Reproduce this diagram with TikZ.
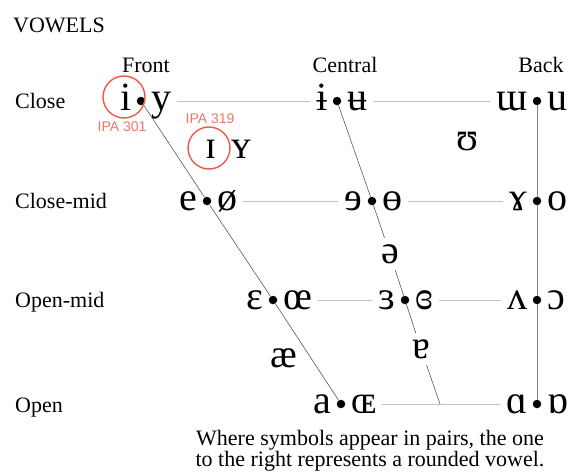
\documentclass[tikz,border=0pt]{standalone}
\usepackage{fontspec}
\setmainfont{Liberation Serif}
\newfontfamily\ipasans{Liberation Sans}
\usetikzlibrary{positioning}
\definecolor{ipared}{RGB}{238,88,72}
\definecolor{ipapink}{RGB}{240,118,104}
\tikzset{lbl/.style={font=\fontsize{22}{24}\selectfont, inner sep=0}}
\tikzset{vow/.style={font=\fontsize{40}{42}\selectfont, inner sep=0, text height=25pt, text depth=7pt}}
\tikzset{vdot/.style={circle, fill=black, inner sep=0, minimum size=8.5pt}}
\tikzset{ring/.style={circle, draw=ipared, line width=1.4pt, minimum size=42pt, inner sep=0}}
\tikzset{ipanum/.style={font=\ipasans\fontsize{14}{16}\selectfont, text=ipapink, inner sep=0}}
\tikzset{hline/.style={draw=black!24, line width=0.8pt, shorten <=5pt, shorten >=6pt}}
\tikzset{sline/.style={draw=black!65, line width=0.6pt}}
\tikzset{bline/.style={draw=black!50, line width=0.9pt}}

\begin{document}
\begin{tikzpicture}[x=1pt, y=-1pt]
	\useasboundingbox (0,0) rectangle (572,471);
	\node[lbl, anchor=base west] (title) at (13,32) {VOWELS};
	%
	\node[lbl, anchor=base] (front) at (146,72) {Front};
	\node[lbl, anchor=base] (central) at (345,72) {Central};
	\node[lbl, anchor=base] (back) at (541,72) {Back};
	%
	\node[lbl, anchor=base west] (close) at (15,108) {Close};
	\node[lbl, anchor=base west] (closemid) at (15,208) {Close-mid};
	\node[lbl, anchor=base west] (openmid) at (15,307) {Open-mid};
	\node[lbl, anchor=base west] (open) at (15,412) {Open};
	%
	\node[vdot] (d11) at (141,101) {};
	\node[vdot] (d12) at (337,101) {};
	\node[vdot] (d13) at (537,101) {};
	\node[vdot] (d21) at (207,201) {};
	\node[vdot] (d22) at (372,201) {};
	\node[vdot] (d23) at (537,201) {};
	\node[vdot] (d31) at (273,300) {};
	\node[vdot] (d32) at (405,300) {};
	\node[vdot] (d33) at (537,300) {};
	\node[vdot] (d41) at (341,404) {};
	\node[vdot] (d43) at (537,404) {};
	%
	\node[vow, left=5pt of d11] (i) {i};
	\node[vow, right=6pt of d11] (y) {y};
	\node[vow, left=5pt of d12] (ibar) {ɨ};
	\node[vow, right=6pt of d12] (ubar) {ʉ};
	\node[vow, left=5pt of d13] (mturn) {ɯ};
	\node[vow, right=6pt of d13] (u) {u};
	\node[vow, left=5pt of d21] (e) {e};
	\node[vow, right=6pt of d21] (oslash) {ø};
	\node[vow, left=5pt of d22] (erev) {ɘ};
	\node[vow, right=6pt of d22] (obar) {ɵ};
	\node[vow, left=5pt of d23] (ramshorn) {ɤ};
	\node[vow, right=6pt of d23] (o) {o};
	\node[vow, left=5pt of d31] (eps) {ɛ};
	\node[vow, right=6pt of d31] (oe) {œ};
	\node[vow, left=5pt of d32] (epsrev) {ɜ};
	\node[vow, right=6pt of d32] (epsclosed) {ɞ};
	\node[vow, left=5pt of d33] (vturn) {ʌ};
	\node[vow, right=6pt of d33] (oopen) {ɔ};
	\node[vow, left=5pt of d41] (a) {a};
	\node[vow, right=6pt of d41] (OE) {ɶ};
	\node[vow, left=5pt of d43] (alpha) {ɑ};
	\node[vow, right=6pt of d43] (alphaturn) {ɒ};
	%
	\node[vow] (smi) at (211,149) {ɪ};
	\node[vow] (smy) at (241,149) {ʏ};
	\node[vow] (hsu) at (467,141) {ʊ};
	\node[vow] (schwa) at (390,254) {ə};
	\node[vow] (ae) at (284,358) {æ};
	\node[vow] (aturn) at (421,349) {ɐ};
	\coordinate (oj) at (440,404);
	%
	\draw[hline] (y) -- (ibar);
	\draw[hline] (ubar) -- (mturn);
	\draw[hline] (oslash) -- (erev);
	\draw[hline] (obar) -- (ramshorn);
	\draw[hline] (oe) -- (epsrev);
	\draw[hline] (epsclosed) -- (vturn);
	\draw[hline] (OE) -- (alpha);
	%
	\draw[sline] (d11) -- (d21) -- (d31) -- (d41);
	\draw[sline] (d12) -- (d22) -- (schwa);
	\draw[sline] (schwa) -- (d32) -- (aturn);
	\draw[sline] (aturn) -- (oj);
	\draw[bline] (d13) -- (d23) -- (d33) -- (d43);
	%
	\node[ring] (r301) at (124,97) {};
	\node[ring] (r319) at (209,148) {};
	\node[ipanum] (n301) at (122,127) {IPA 301};
	\node[ipanum] (n319) at (210,119) {IPA 319};
	%
	\node[lbl, align=center, font=\fontsize{22}{19}\selectfont] (note) at (370,451)
		{Where symbols appear in pairs, the one\\to the right represents a rounded vowel.};
\end{tikzpicture}
\end{document}
